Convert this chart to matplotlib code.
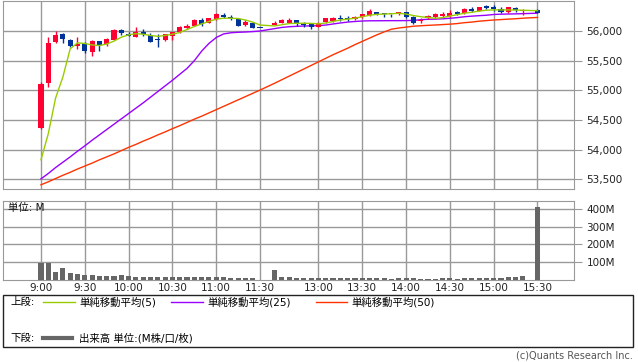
import matplotlib
matplotlib.use("Agg")
import matplotlib.pyplot as plt
import numpy as np
from matplotlib.lines import Line2D
from matplotlib.patches import Rectangle

plt.rcParams['font.family'] = ['DejaVu Sans', 'Noto Sans CJK JP']

# 5-minute bars: morning 9:00-11:30, afternoon 12:30-15:30
times = ([f"{9 + m // 60}:{m % 60:02d}" for m in range(0, 151, 5)] +
         [f"{12 + m // 60}:{m % 60:02d}" for m in range(30, 211, 5)])

opens = [54372, 55119, 55815, 55944, 55848, 55752, 55776, 55646, 55832, 55776,
         55848, 56017, 55950, 55904, 55988, 55933, 55865, 55853, 55921, 55978,
         56056, 56090, 56185, 56130, 56202, 56275, 56241, 56202, 56101, 56130,
         56050,
         56101, 56130, 56140, 56185, 56118, 56112, 56062, 56146, 56174, 56214,
         56214, 56197, 56230, 56270, 56326, 56298, 56286, 56281, 56315, 56241,
         56168, 56214, 56230, 56258, 56258, 56315, 56298, 56365, 56342, 56421,
         56399, 56365, 56326, 56382, 56337, np.nan, 56354]
highs = [55146, 55894, 56000, 55961, 55865, 55894, 55810, 55848, 55832, 55877,
         56034, 56034, 55988, 56062, 56028, 55961, 55944, 55950, 55988, 56084,
         56112, 56197, 56224, 56214, 56308, 56298, 56270, 56214, 56185, 56146,
         56050,
         56174, 56197, 56214, 56185, 56157, 56130, 56157, 56214, 56241, 56270,
         56253, 56253, 56286, 56365, 56326, 56298, 56286, 56326, 56326, 56253,
         56214, 56270, 56298, 56315, 56354, 56337, 56382, 56410, 56410, 56438,
         56438, 56399, 56410, 56399, 56371, np.nan, 56365]
lows = [54350, 55062, 55793, 55803, 55725, 55692, 55624, 55584, 55668, 55747,
        55848, 55933, 55916, 55904, 55921, 55820, 55725, 55837, 55853, 55961,
        56034, 56090, 56090, 56130, 56185, 56214, 56185, 56090, 56090, 56056,
        56050,
        56101, 56130, 56140, 56090, 56067, 56034, 56062, 56130, 56146, 56174,
        56174, 56185, 56214, 56258, 56270, 56241, 56241, 56270, 56214, 56118,
        56140, 56202, 56202, 56230, 56241, 56270, 56286, 56326, 56342, 56371,
        56342, 56309, 56309, 56326, 56270, np.nan, 56298]
closes = [55107, 55793, 55933, 55860, 55752, 55786, 55668, 55827, 55764, 55865,
          56017, 55961, 55921, 55988, 55944, 55820, 55848, 55950, 55978, 56072,
          56090, 56185, 56118, 56214, 56281, 56236, 56214, 56090, 56157, 56056,
          56050,
          56140, 56185, 56185, 56130, 56101, 56072, 56130, 56214, 56224, 56202,
          56197, 56241, 56286, 56337, 56286, 56281, 56281, 56315, 56241, 56140,
          56185, 56253, 56281, 56281, 56308, 56286, 56365, 56342, 56410, 56382,
          56376, 56326, 56399, 56354, 56354, np.nan, 56298]

ma5 = [53830, 54270, 54870, 55225, 55700, 55800, 55790, 55765, 55755, 55780,
       55830, 55895, 55935, 55955, 55945, 55925, 55910, 55925, 55945, 55975,
       56025, 56075, 56120, 56160, 56200, 56215, 56215, 56210, 56185, 56150,
       56100,
       56085, 56105, 56125, 56130, 56130, 56128, 56120, 56135, 56160, 56185,
       56200, 56215, 56240, 56265, 56280, 56285, 56290, 56298, 56285, 56260,
       56240, 56228, 56214, 56225, 56252, 56275, 56300, 56315, 56335, 56350,
       56355, 56355, 56355, 56352, 56350, 56345, 56342]
ma25 = [53510, 53600, 53700, 53790, 53880, 53975, 54065, 54160, 54250, 54340,
        54430, 54520, 54610, 54700, 54790, 54885, 54980, 55075, 55170, 55270,
        55370, 55500, 55660, 55790, 55890, 55950, 55970, 55978, 55983, 55990,
        56000,
        56040, 56060, 56072, 56078, 56084, 56086, 56090, 56100, 56118, 56135,
        56150, 56160, 56168, 56172, 56172, 56173, 56174, 56174, 56175, 56178,
        56190, 56197, 56200, 56205, 56214, 56225, 56240, 56250, 56258, 56265,
        56278, 56283, 56286, 56288, 56292, 56296, 56300]
ma50 = [53410, 53460, 53515, 53570, 53620, 53675, 53725, 53775, 53830, 53880,
        53930, 53985, 54040, 54090, 54145, 54195, 54250, 54300, 54355, 54405,
        54460, 54515, 54565, 54620, 54675, 54730, 54785, 54840, 54895, 54950,
        55005,
        55120, 55180, 55240, 55300, 55360, 55420, 55480, 55540, 55600, 55655,
        55710, 55770, 55825, 55880, 55935, 55985, 56030, 56050, 56065, 56080,
        56088, 56095, 56101, 56108, 56115, 56125, 56140, 56150, 56165, 56175,
        56185, 56192, 56200, 56206, 56215, 56222, 56228]

# volume in millions
volume = [97, 97, 45, 67, 39, 34, 28, 26, 22, 22, 24, 28, 24, 19, 19, 19, 19, 19,
          19, 17, 19, 15, 19, 17, 15, 15, 13, 13, 13, 13, 2,
          56, 19, 19, 12, 12, 12, 13, 13, 13, 13, 13, 13, 13, 13, 13, 13, 7, 13,
          13, 13, 7, 7, 7, 13, 13, 7, 13, 13, 13, 13, 13, 13, 19, 19, 24, 0, 412]

tick_times = ['9:00', '9:30', '10:00', '10:30', '11:00', '11:30',
              '13:00', '13:30', '14:00', '14:30', '15:00', '15:30']
price_ticks = [53500, 54000, 54500, 55000, 55500, 56000]
vol_ticks = [100, 200, 300, 400]

# slot positions: one empty slot for the lunch break
n_morning = 31
slots = np.array([i if i < n_morning else i + 1 for i in range(len(times))])
tick_pos = [slots[times.index(t)] for t in tick_times]

W, H = 638, 362
def fx(x):
    return x / W
def fy(y):
    return 1 - y / H

grid_c = '#999999'
up_c = '#ff0033'
down_c = '#003399'

fig = plt.figure(figsize=(6.38, 3.62), dpi=100)
ax1 = fig.add_axes([fx(3), fy(189), 571 / W, 188 / H])
ax2 = fig.add_axes([fx(3), fy(280), 571 / W, 79 / H])

for ax in (ax1, ax2):
    ax.set_xlim(-5.2, 73)
    ax.set_xticks(tick_pos)
    ax.grid(True, color=grid_c, lw=1)
    ax.set_axisbelow(True)
    for s in ax.spines.values():
        s.set_color(grid_c)
    ax.yaxis.tick_right()
    ax.tick_params(axis='y', length=6, color=grid_c, pad=3, labelsize=7.5,
                   labelcolor='#222222')
    ax.tick_params(axis='x', length=0)

# price panel
ax1.set_ylim(53339, 56505)
ax1.set_yticks(price_ticks)
ax1.set_yticklabels([f"{p:,}" for p in price_ticks])
ax1.set_xticklabels([])

ax1.plot(slots, ma50, color='#ff3300', lw=1, zorder=2)
ax1.plot(slots, ma25, color='#9900ff', lw=1, zorder=2)

o = np.array(opens, dtype=float)
h = np.array(highs, dtype=float)
l = np.array(lows, dtype=float)
c = np.array(closes, dtype=float)
ok = ~np.isnan(o)
cols = np.where(c > o, up_c, down_c)[ok]
ax1.vlines(slots[ok], l[ok], h[ok], colors=cols, lw=1, zorder=3)
body_bottom = np.minimum(o, c)[ok]
body_h = np.maximum(np.abs(c - o)[ok], 18)
ax1.bar(slots[ok], body_h, bottom=body_bottom, width=0.7, color=cols, zorder=4)

ax1.plot(slots, ma5, color='#99cc00', lw=1, zorder=5)

# volume panel
ax2.set_ylim(0, 444)
ax2.set_yticks(vol_ticks)
ax2.set_yticklabels([f"{v}M" for v in vol_ticks])
ax2.set_xticklabels(tick_times, fontsize=7.5, color='#222222')
ax2.tick_params(axis='x', pad=2)
ax2.bar(slots, volume, width=0.7, color='#666666', zorder=3)

fig.text(fx(8), fy(208), '単位: M', fontsize=7.5, va='center', ha='left',
         color='#111111')

# legend box
fig.patches.append(Rectangle((fx(3), fy(347)), 630 / W, 52 / H, transform=fig.transFigure,
                             fill=False, edgecolor='#222222', lw=1))
fs = 7.5
fig.text(fx(10), fy(302), '上段:', fontsize=fs, va='center')
items = [(43, 75, 79, '#99cc00', '単純移動平均(5)'),
         (171, 203, 207, '#9900ff', '単純移動平均(25)'),
         (316, 347, 351, '#ff3300', '単純移動平均(50)')]
for x0, x1, xt, col, lab in items:
    fig.lines.append(Line2D([fx(x0), fx(x1)], [fy(302), fy(302)], color=col, lw=1,
                            transform=fig.transFigure))
    fig.text(fx(xt), fy(302), lab, fontsize=fs, va='center')
fig.text(fx(10), fy(338), '下段:', fontsize=fs, va='center')
fig.lines.append(Line2D([fx(43), fx(72)], [fy(338), fy(338)], color='#666666', lw=3,
                        transform=fig.transFigure))
fig.text(fx(79), fy(338), '出来高 単位:(M株/口/枚)', fontsize=fs, va='center')

fig.text(fx(633), fy(356), '(c)Quants Research Inc.', fontsize=7, va='center',
         ha='right', color='#555555')

fig.savefig('out.png', dpi=100)
